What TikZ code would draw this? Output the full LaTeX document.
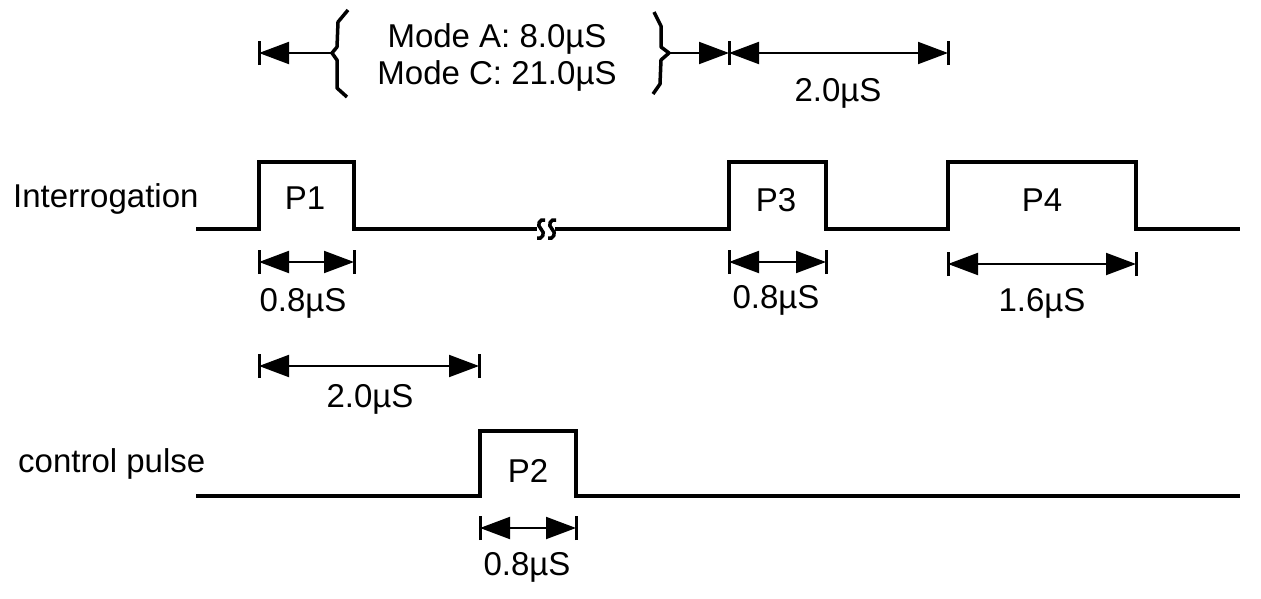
\documentclass[tikz,border=0pt]{standalone}
\usepackage{fontspec}
\setmainfont{Liberation Sans}
\usetikzlibrary{arrows.meta}
\begin{document}
\begin{tikzpicture}[x=1pt,y=-1pt,
  wave/.style={line width=4pt,line join=miter,line cap=rect},
  dim/.style={line width=2pt},
  dimboth/.style={dim,{Triangle[length=30pt,width=22pt]}-{Triangle[length=30pt,width=22pt]}},
  dimend/.style={dim,-{Triangle[length=30pt,width=22pt]}},
  barline/.style={line width=3pt},
  brace/.style={line width=3.5pt,line join=round},
  lbl/.style={inner sep=0pt,anchor=base,font=\fontsize{33}{39}\selectfont},
  brk/.style={line width=3.5pt}]
\useasboundingbox[fill=white] (0,0) rectangle (1261,598);

% ---- waveforms
\draw[wave] (198,229) -- (259,229) -- (259,162) -- (354,162) -- (354,229) -- (535,229);
\draw[wave] (557,229) -- (729,229) -- (729,162) -- (826,162) -- (826,229) -- (948,229)
   -- (948,162) -- (1136,162) -- (1136,229) -- (1238,229);
\foreach \bx in {541,552}{
  \draw[brk] (\bx+4,220) .. controls (\bx-1,218) and (\bx-5,225) .. (\bx,229)
     .. controls (\bx+5,233) and (\bx+1,240) .. (\bx-4,238);
}
\draw[wave] (198,496) -- (480,496) -- (480,431) -- (576,431) -- (576,496) -- (1238,496);

% ---- labels
\node[lbl,anchor=base west] (lint) at (13,207) {Interrogation};
\node[lbl,anchor=base west] (lctl) at (18,472) {control pulse};
\node[lbl] (p1) at (305,209) {P1};
\node[lbl] (p3) at (776,211) {P3};
\node[lbl] (p4) at (1042,211) {P4};
\node[lbl] (p2) at (528,482) {P2};

% ---- coordinates for dimension lines
\coordinate (a1) at (259,262); \coordinate (a2) at (354,262);
\coordinate (b1) at (729,262); \coordinate (b2) at (826,262);
\coordinate (c1) at (948,264); \coordinate (c2) at (1136,264);
\coordinate (d1) at (259,366); \coordinate (d2) at (479,366);
\coordinate (e1) at (480,528); \coordinate (e2) at (576,528);
\coordinate (t0) at (259,53);  \coordinate (tl) at (332,53);
\coordinate (tr) at (669,53);  \coordinate (t1) at (729,53);
\coordinate (t2) at (948,53);

\foreach \c in {a1,a2,b1,b2,c1,c2,d1,d2,e1,e2,t0,t1,t2}{
  \draw[barline] ([yshift=-12pt]\c) -- ([yshift=12pt]\c);
}
\draw[dimboth] (a1) -- (a2);
\draw[dimboth] (b1) -- (b2);
\draw[dimboth] (c1) -- (c2);
\draw[dimboth] (d1) -- (d2);
\draw[dimboth] (e1) -- (e2);
\draw[dimboth] (t1) -- (t2);
\draw[dimend] (tl) -- (t0);
\draw[dimend] (tr) -- (t1);

\node[lbl] (la) at (303,311) {0.8µS};
\node[lbl] (lb) at (776,308) {0.8µS};
\node[lbl] (lc) at (1042,311) {1.6µS};
\node[lbl] (ld) at (370,407) {2.0µS};
\node[lbl] (le) at (527,575) {0.8µS};
\node[lbl] (lt) at (838,101) {2.0µS};

% ---- braces
\draw[brace] (348,10) -- (338,22) -- (337,47) -- (tl) -- (337,60) -- (337,88) -- (347,97);
\draw[brace] (654,12) -- (661,26) -- (661,47) -- (tr) -- (661,60) -- (660,84) -- (653,94);

\node[lbl] (ma) at (497,47) {Mode A: 8.0µS};
\node[lbl] (mc) at (497,84) {Mode C: 21.0µS};
\end{tikzpicture}
\end{document}
